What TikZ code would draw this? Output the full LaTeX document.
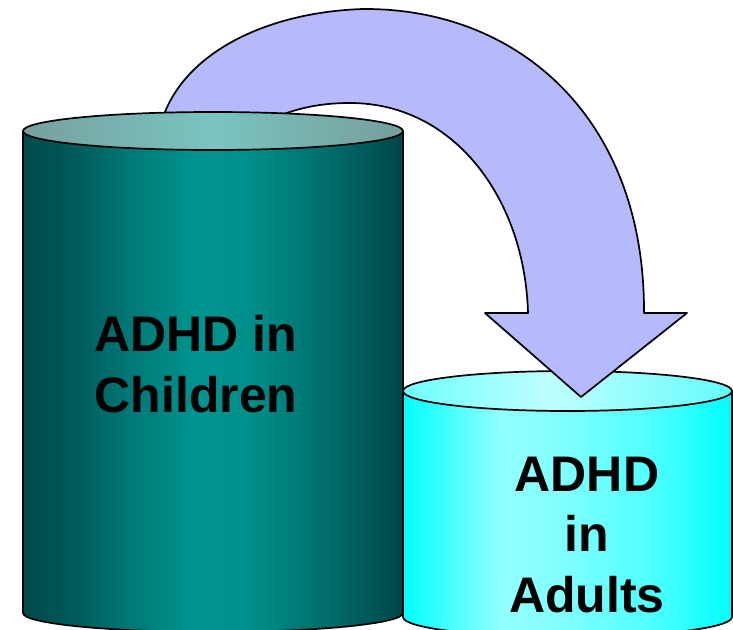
\documentclass[tikz,border=0pt]{standalone}
\usepackage{fontspec}
\setmainfont{Liberation Sans}
\definecolor{arrowfill}{RGB}{182,186,252}
\definecolor{lbA}{RGB}{0,74,74}
\definecolor{lbB}{RGB}{0,84,84}
\definecolor{lbC}{RGB}{0,120,118}
\definecolor{lbD}{RGB}{0,148,143}
\definecolor{lbE}{RGB}{0,142,138}
\definecolor{lbF}{RGB}{0,110,108}
\definecolor{lbG}{RGB}{0,70,70}
\definecolor{ltA}{RGB}{118,160,158}
\definecolor{ltB}{RGB}{122,196,193}
\definecolor{ltC}{RGB}{118,158,154}
\definecolor{rbA}{RGB}{0,255,255}
\definecolor{rbB}{RGB}{40,255,255}
\definecolor{rbC}{RGB}{145,255,255}
\definecolor{rbD}{RGB}{130,255,255}
\definecolor{rbE}{RGB}{80,255,255}
\definecolor{rbF}{RGB}{0,255,255}
\definecolor{rtA}{RGB}{110,255,255}
\definecolor{rtB}{RGB}{190,255,255}
\definecolor{rtC}{RGB}{100,252,252}
\pgfdeclarehorizontalshading{lbody}{100bp}{color(0bp)=(lbA); color(25bp)=(lbA); color(30bp)=(lbB); color(39bp)=(lbC); color(48bp)=(lbD); color(55bp)=(lbE); color(65bp)=(lbF); color(75bp)=(lbG); color(100bp)=(lbG)}
\pgfdeclarehorizontalshading{ltop}{100bp}{color(0bp)=(ltA); color(25bp)=(ltA); color(50bp)=(ltB); color(75bp)=(ltC); color(100bp)=(ltC)}
\pgfdeclarehorizontalshading{rbody}{100bp}{color(0bp)=(rbA); color(25bp)=(rbA); color(29bp)=(rbB); color(40bp)=(rbC); color(49bp)=(rbD); color(62.5bp)=(rbE); color(75bp)=(rbF); color(100bp)=(rbF)}
\pgfdeclarehorizontalshading{rtop}{100bp}{color(0bp)=(rtA); color(25bp)=(rtA); color(47.5bp)=(rtB); color(75bp)=(rtC); color(100bp)=(rtC)}
\tikzset{
  outline/.style={draw=black, line width=1.7pt, line join=round},
  lbl/.style={font=\bfseries\fontsize{50}{60.5}\selectfont, align=center, inner sep=0pt, text=black},
}
\begin{document}
\begin{tikzpicture}[x=1pt, y=-1pt]
\useasboundingbox (0,0) rectangle (733,629);
\clip (0,0) rectangle (733,629);
% right cylinder
\coordinate (rtl) at (403,391);
\coordinate (rtr) at (732,391);
\coordinate (rbl) at (403,617);
\coordinate (rbr) at (732,617);
\path[shading=rbody, outline] (rtl) -- (rbl) arc[start angle=180, end angle=360, x radius=164.5, y radius=-20] -- (rtr) -- cycle;
\path[shading=rtop, outline] (567.5,391) ellipse[x radius=164.5, y radius=20];
% arrow
\path[fill=arrowfill, outline] (160,140) -- (165,112)
  .. controls (190,50) and (270,12) .. (363,9)
  .. controls (520,8) and (645,120) .. (644,313)
  -- (687,313) -- (581,397) -- (485,313) -- (528,313)
  .. controls (525,200) and (455,103) .. (350,103)
  .. controls (315,103) and (285,110) .. (250,130) -- cycle;
% left cylinder
\coordinate (ltl) at (23,131);
\coordinate (ltr) at (403,131);
\coordinate (lbl) at (23,613);
\path[shading=lbody, outline] (ltl) -- (lbl) arc[start angle=180, end angle=360, x radius=190, y radius=-19] -- (ltr) -- cycle;
\path[shading=ltop, outline] (213,131) ellipse[x radius=190, y radius=19];
% texts
\node[lbl, anchor=base] (childtext) at (196,412) {ADHD in\\Children};
\node[lbl, anchor=base] (adulttext) at (587,612) {ADHD\\in\\Adults};
\end{tikzpicture}
\end{document}
